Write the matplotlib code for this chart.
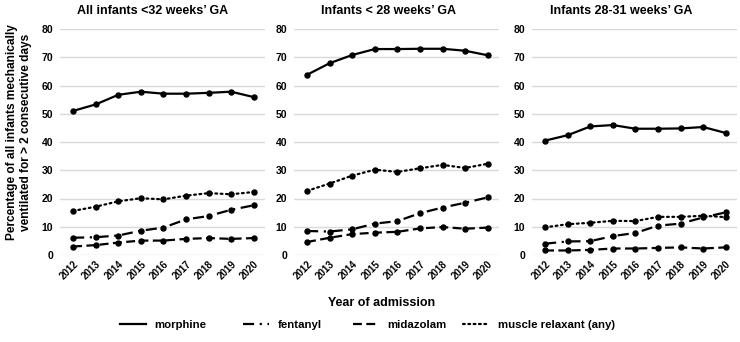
import matplotlib

matplotlib.use("Agg")
import matplotlib.pyplot as plt
from matplotlib.lines import Line2D

plt.rcParams["font.family"] = ["Liberation Sans", "DejaVu Sans"]
plt.rcParams["font.weight"] = "bold"

YEARS = ["2012", "2013", "2014", "2015", "2016", "2017", "2018", "2019", "2020"]
PANEL_TITLES = ["All infants <32 weeks\u2019 GA", "Infants < 28 weeks\u2019 GA",
                "Infants 28-31 weeks\u2019 GA"]
DRUGS = ["morphine", "fentanyl", "midazolam", "muscle relaxant (any)"]

# percentages per panel
all_morphine = [51.0, 53.3, 56.7, 57.8, 57.1, 57.1, 57.4, 57.8, 55.9]
all_fentanyl = [6.1, 6.3, 6.9, 8.6, 9.7, 12.6, 13.8, 16.0, 17.6]
all_midazolam = [3.0, 3.5, 4.4, 5.1, 5.1, 5.7, 6.0, 5.7, 6.0]
all_relaxant = [15.6, 17.1, 19.0, 20.1, 19.7, 21.0, 21.9, 21.5, 22.3]

lt28_morphine = [63.8, 67.9, 70.8, 72.9, 72.9, 73.0, 73.0, 72.3, 70.7]
lt28_fentanyl = [8.5, 8.3, 9.1, 11.1, 12.0, 14.8, 16.8, 18.5, 20.4]
lt28_midazolam = [4.6, 6.1, 7.4, 7.9, 8.2, 9.4, 9.9, 9.3, 9.7]
lt28_relaxant = [22.7, 25.3, 28.1, 30.2, 29.4, 30.7, 31.9, 30.8, 32.3]

w2831_morphine = [40.5, 42.4, 45.5, 46.0, 44.7, 44.7, 44.8, 45.3, 43.2]
w2831_fentanyl = [4.0, 4.8, 4.9, 6.7, 7.8, 10.4, 11.1, 13.3, 15.1]
w2831_midazolam = [1.6, 1.6, 1.8, 2.3, 2.3, 2.5, 2.7, 2.3, 2.7]
w2831_relaxant = [9.8, 10.9, 11.4, 12.1, 12.0, 13.5, 13.5, 13.9, 13.4]

panels = [
    [all_morphine, all_fentanyl, all_midazolam, all_relaxant],
    [lt28_morphine, lt28_fentanyl, lt28_midazolam, lt28_relaxant],
    [w2831_morphine, w2831_fentanyl, w2831_midazolam, w2831_relaxant],
]

STYLES = [
    dict(linestyle="-"),
    dict(linestyle=(0, (5, 2.5, 1, 2.5))),
    dict(linestyle=(0, (4, 2))),
    dict(linestyle=(0, (0.8, 1.6)), dash_capstyle="round"),
]

fig = plt.figure(figsize=(7.4, 3.42), dpi=100)
W, H = 740.0, 342.0
lefts = [60, 294, 532]
title_x = [153, 389, 621]
x = list(range(len(YEARS)))

for i, (series, title) in enumerate(zip(panels, PANEL_TITLES)):
    ax = fig.add_axes([lefts[i] / W, 1 - 255 / H, 205 / W, 226 / H])
    for vals, st in zip(series, STYLES):
        ax.plot(x, vals, color="black", linewidth=1.6, marker="o", markersize=3.6, **st)
    ax.set_xlim(-0.58, 8.5)
    ax.set_ylim(0, 80)
    ax.set_yticks(range(0, 81, 10))
    ax.set_xticks(x)
    ax.set_xticklabels(YEARS, rotation=45, ha="right", rotation_mode="anchor",
                       fontsize=7, fontweight="bold")
    ax.tick_params(axis="y", labelsize=7.5, length=0, pad=5)
    ax.tick_params(axis="x", length=0, pad=3)
    for lab in ax.get_yticklabels():
        lab.set_fontweight("bold")
    ax.grid(axis="y", color="#d9d9d9", linewidth=1)
    ax.set_axisbelow(True)
    for sp in ax.spines.values():
        sp.set_visible(False)
    fig.text(title_x[i] / W, 1 - 11 / H, title, ha="center", va="center",
             fontsize=9, fontweight="bold")

fig.text(19 / W, 1 - 132 / H,
         "Percentage of all infants mechanically\nventilated for > 2 consecutive days",
         rotation=90, ha="center", va="center", fontsize=8.6, fontweight="bold",
         linespacing=1.3)
fig.text(382 / W, 1 - 303 / H, "Year of admission", ha="center", va="center",
         fontsize=9, fontweight="bold")

# one legend entry per drug, placed where the reference has them
legend_x = [120, 243, 353, 463]
for st, name, lx in zip(STYLES, DRUGS, legend_x):
    h = Line2D([], [], color="black", linewidth=1.6, **st)
    fig.legend([h], [name], loc="center left", bbox_to_anchor=(lx / W, 1 - 325 / H),
               frameon=False, handlelength=2.3, handletextpad=0.75,
               borderaxespad=0, borderpad=0, prop={"weight": "bold", "size": 8.2})

fig.savefig("out.png", dpi=100)
